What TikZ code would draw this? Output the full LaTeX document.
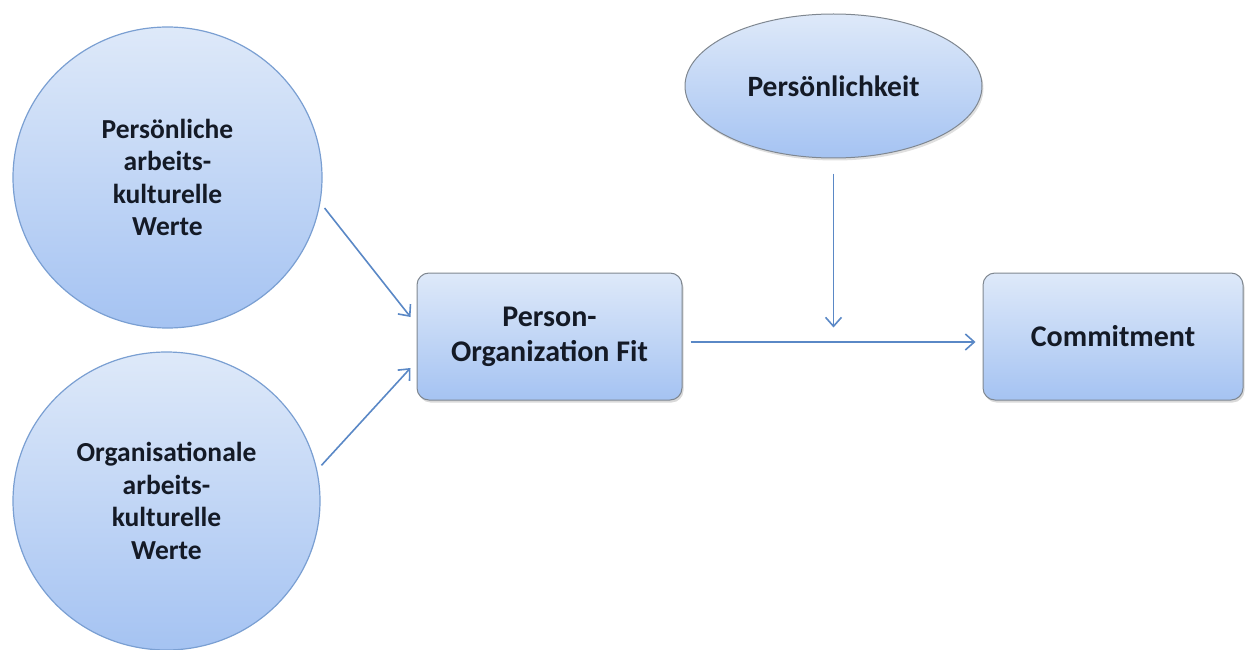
\documentclass[tikz,border=0pt]{standalone}
\usepackage{fontspec}
\setmainfont{Carlito}
\usetikzlibrary{arrows.meta,shapes.geometric,shadows}
\definecolor{topfill}{HTML}{DEE9F9}
\definecolor{botfill}{HTML}{A5C3F2}
\definecolor{circline}{HTML}{7A9FD2}
\definecolor{boxline}{HTML}{7F8790}
\definecolor{arrcol}{HTML}{5A88C6}
\definecolor{txt}{HTML}{141A26}
\tikzset{
  blob/.style={ellipse, inner sep=0pt, top color=topfill, bottom color=botfill,
    draw=circline, line width=1.2pt, text=txt, align=center,
    font=\fontsize{27.5}{32.5}\selectfont\bfseries},
  bubble/.style={ellipse, inner sep=0pt, top color=topfill, bottom color=botfill,
    draw=boxline, line width=1pt, text=txt, align=center,
    font=\fontsize{29.5}{34}\selectfont\bfseries,
    drop shadow={shadow xshift=1.5pt, shadow yshift=-2.5pt, opacity=0.25}},
  boxnode/.style={rectangle, rounded corners=12pt, inner sep=0pt,
    top color=topfill, bottom color=botfill,
    draw=boxline, line width=1pt, text=txt, align=center,
    font=\fontsize{30}{35}\selectfont\bfseries,
    drop shadow={shadow xshift=1.5pt, shadow yshift=-2.5pt, opacity=0.3}},
  arr/.style={draw=arrcol, line width=1.6pt,
    -{Straight Barb[length=9pt,width=16pt,line width=1.6pt]}}
}
\begin{document}
\begin{tikzpicture}[x=1pt,y=-1pt]
\useasboundingbox (0,0) rectangle (1245,650);
\node[blob, minimum width=309pt, minimum height=301pt] (c1) at (167.5,177.5)
  {Persönliche\\arbeits-\\kulturelle\\Werte};
\node[blob, minimum width=307pt, minimum height=298pt] (c2) at (166.5,501)
  {Organisationale\\arbeits-\\kulturelle\\Werte};
\node[boxnode, minimum width=265pt, minimum height=127pt] (pof) at (549.5,336.5)
  {Person-\\Organization Fit};
\node[boxnode, minimum width=260pt, minimum height=127pt] (com) at (1113,336.5)
  {Commitment};
\node[bubble, minimum width=297pt, minimum height=144pt] (pers) at (833.5,86)
  {Persönlichkeit};
\draw[arr] (c1.-11.5) ++(5pt,-1pt) coordinate (s1)
  -- ([xshift=-6pt,yshift=19.5pt]pof.west);
\draw[arr] (c2.13.7) ++(5pt,1pt) coordinate (s2)
  -- ([xshift=-6pt,yshift=-31.5pt]pof.west);
\draw[arr] ([xshift=8pt,yshift=-5.5pt]pof.east) -- ([xshift=-7pt,yshift=-5.5pt]com.west);
\draw[arr] ([yshift=-15pt]pers.south) -- ([yshift=-169pt]pers.south);
\end{tikzpicture}
\end{document}
